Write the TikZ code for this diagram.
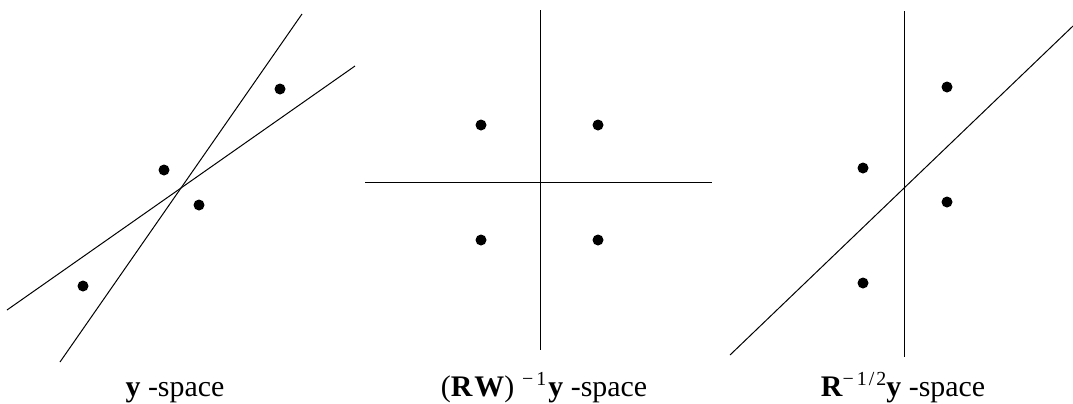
\documentclass[tikz,border=0pt]{standalone}
\usepackage{fontspec}
\setmainfont{Liberation Serif}
\usetikzlibrary{positioning}
\newcommand{\supx}[1]{\raisebox{11bp}{\fontsize{20}{20}\selectfont #1}}

\begin{document}
\begin{tikzpicture}[x=1bp, y=-1bp,
    ln/.style={line width=1bp},
    pt/.style={circle, fill=black, inner sep=0pt, minimum size=11bp},
    lab/.style={font=\fontsize{30}{34}\selectfont, inner sep=0pt, anchor=base}
  ]
  \useasboundingbox (0,0) rectangle (1073,403);
  % y-space
  \draw[ln] (60,362) -- (302,14);
  \draw[ln] (7,310) -- (355,66);
  \node[pt] (l1) at (83,286) {};
  \node[pt] (l2) at (164,170) {};
  \node[pt] (l3) at (199,205) {};
  \node[pt] (l4) at (280,89) {};
  \node[lab] (ly) at (175,396) {\textbf{y} -space};
  % (RW)^{-1} y-space
  \draw[ln] (540,10) -- (540,350);
  \draw[ln] (365,182) -- (712,182);
  \node[pt] (m1) at (481,125) {};
  \node[pt] (m2) at (598,125) {};
  \node[pt] (m3) at (481,240) {};
  \node[pt] (m4) at (598,240) {};
  \node[lab] (my) at (544,396) {(\textbf{R\kern2bp W})\kern8bp\supx{−\kern3bp 1}\kern2bp\textbf{y} -space};
  % R^{-1/2} y-space
  \draw[ln] (904,11) -- (904,357);
  \draw[ln] (730,355) -- (1073,26);
  \node[pt] (r1) at (863,168) {};
  \node[pt] (r2) at (947,87) {};
  \node[pt] (r3) at (947,202) {};
  \node[pt] (r4) at (863,283) {};
  \node[lab] (ry) at (903,396) {\textbf{R}\supx{−\kern3bp 1\kern2bp/\kern2bp 2}\textbf{y} -space};
\end{tikzpicture}
\end{document}
